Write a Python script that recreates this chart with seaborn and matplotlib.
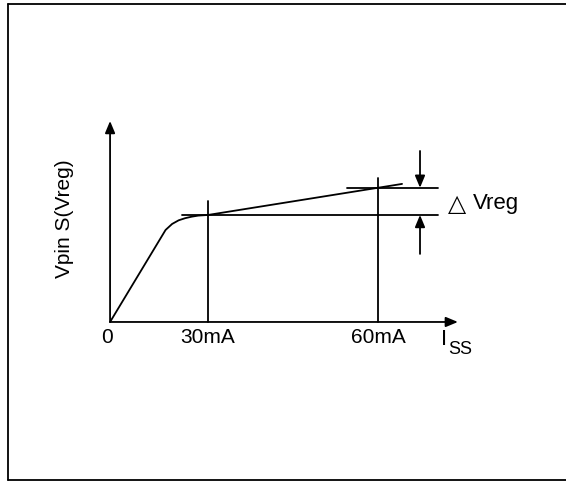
import seaborn as sns
import matplotlib.pyplot as plt
from matplotlib.lines import Line2D

# schematic curve: load current (plot position) vs regulated voltage (arb. units)
i_curve = [0, 17, 19, 21, 23, 25, 27, 30, 89.4]
v_curve = [0, 4.3, 4.58, 4.75, 4.85, 4.92, 4.97, 5.0, 6.45]

tick_pos = [0, 30, 82]
tick_labels = ['0', '30mA', '60mA']
v_low = 5.0     # Vreg at 30mA
v_high = 6.27   # Vreg at 60mA
line_tops = [5.65, 6.73]

sns.set_theme(style='white')
plt.rcParams['font.family'] = ['Liberation Sans', 'DejaVu Sans']
plt.rcParams['text.color'] = 'black'

fig = plt.figure(figsize=(5.66, 4.85), dpi=100)
ax = fig.add_axes([0, 0, 1, 1])
ax.set_xlim(-33.7, 139.6)
ax.set_ylim(-7.57, 15.09)
ax.axis('off')

lw = 1.3
sns.lineplot(x=i_curve, y=v_curve, ax=ax, color='black', lw=lw)

# vertical markers at 30mA and 60mA
for x, top in zip(tick_pos[1:], line_tops):
    ax.plot([x, x], [0, top], color='black', lw=lw)

# reference horizontals for delta Vreg
ax.plot([22, 100.4], [v_low, v_low], color='black', lw=lw)
ax.plot([72.5, 100.4], [v_high, v_high], color='black', lw=lw)

arr = dict(arrowstyle='-|>,head_length=0.6,head_width=0.25', color='black',
           lw=lw, shrinkA=0, shrinkB=0, mutation_scale=12)
# axes with arrows
ax.annotate('', xy=(0, 9.39), xytext=(0, 0), arrowprops=arr)
ax.annotate('', xy=(106.5, 0), xytext=(0, 0), arrowprops=arr)
# delta Vreg arrows
ax.annotate('', xy=(94.9, v_high), xytext=(94.9, 7.99), arrowprops=arr)
ax.annotate('', xy=(94.9, v_low), xytext=(94.9, 3.18), arrowprops=arr)

fs = 15
for x, lab in zip(tick_pos, tick_labels):
    ax.text(x - (1 if lab == '0' else 0), -0.7, lab, ha='center', va='center', fontsize=fs)

ax.text(102.3, -0.75, 'I', ha='center', va='center', fontsize=fs + 1)
ax.text(103.6, -1.25, 'SS', ha='left', va='center', fontsize=13)

ax.text(103.3, 5.56, '△', ha='left', va='center', fontsize=17,
        family=['DejaVu Sans'])
ax.text(111.0, 5.56, 'Vreg', ha='left', va='center', fontsize=fs + 1)

ax.text(-13.8, 4.86, 'Vpin S(Vreg)', rotation=90, ha='center', va='center', fontsize=fs)

# frame around the figure (top, left, bottom)
for xs, ys in [([0.015, 1.0], [0.9897, 0.9897]),
               ([0.015, 0.015], [0.9897, 0.0082]),
               ([0.015, 1.0], [0.0082, 0.0082])]:
    fig.add_artist(Line2D(xs, ys, transform=fig.transFigure, color='black', lw=1.3))

fig.savefig('out.png', dpi=100)
